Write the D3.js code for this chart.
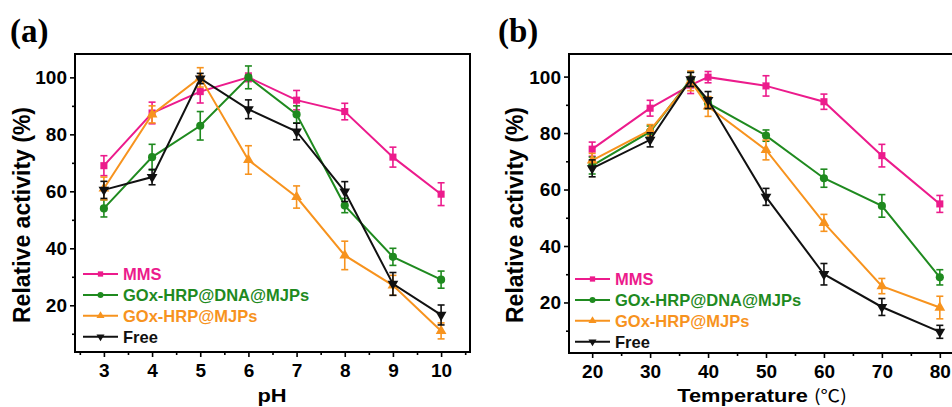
<!DOCTYPE html>
<html>
<head>
<meta charset="utf-8">
<script src="https://cdn.jsdelivr.net/npm/d3@7"></script>
<style>
  html, body { margin: 0; padding: 0; background: #fff; }
  svg { display: block; }
</style>
</head>
<body>
<svg id="fig" width="952" height="407"></svg>
<script>
// ---- data: relative activity (%) vs pH ----
const phLevels = [3, 4, 5, 6, 7, 8, 9, 10];
const mmsPH      = [69, 87.5, 95, 100, 92, 88, 72, 59];
const mmsPHErr   = [3.5, 3.8, 4, 1.5, 3.4, 2.9, 3.5, 4];
const dnaPH      = [54, 72, 83, 100, 87, 55, 37, 29];
const dnaPHErr   = [3, 4.5, 5, 4, 3, 2.5, 3, 3];
const mjpPH      = [61, 87, 100, 71, 58, 37.5, 27, 11];
const mjpPHErr   = [4, 3, 3.4, 5, 3.9, 5, 3.5, 2.8];
const freePH     = [60.5, 65, 99.6, 88.8, 81, 59.9, 27.5, 16.6];
const freePHErr  = [3, 2.7, 1.8, 3.3, 2.9, 3.5, 4, 3.5];

// ---- data: relative activity (%) vs temperature ----
const tempLevels = [20, 30, 37, 40, 50, 60, 70, 80];
const mmsT       = [74.3, 88.8, 97, 99.8, 96.7, 91.1, 72, 54.9];
const mmsTErr    = [2.5, 2.8, 3, 2, 3.6, 2.7, 4, 3];
const dnaT       = [68.5, 80.5, 99, 90.6, 79.1, 64, 54.2, 28.9];
const dnaTErr    = [3, 2, 2.5, 2, 2, 3.2, 4, 2.7];
const mjpT       = [70.3, 81, 98.5, 89.4, 74, 48.2, 25.8, 18.2];
const mjpTErr    = [2.5, 2, 3.5, 3.5, 3.5, 3, 2.7, 4];
const freeT      = [67.5, 77.6, 99, 91.7, 57.4, 30, 18.4, 9.6];
const freeTErr   = [3, 2.5, 2.5, 3, 3, 3.8, 3, 2.3];

const seriesNames = ["MMS", "GOx-HRP@DNA@MJPs", "GOx-HRP@MJPs", "Free"];
const seriesColors = ["#ec1b8c", "#1f8a1f", "#f7931e", "#111111"];
const seriesSymbols = [d3.symbolSquare, d3.symbolCircle, d3.symbolTriangle, d3.symbolTriangle];

const yTicksMajor = [20, 40, 60, 80, 100];
const yTicksMinor = [10, 30, 50, 70, 90];
const phTicksMajor = [3, 4, 5, 6, 7, 8, 9, 10];
const phTicksMinor = [2.5, 3.5, 4.5, 5.5, 6.5, 7.5, 8.5, 9.5, 10.5];
const tTicksMajor = [20, 30, 40, 50, 60, 70, 80];
const tTicksMinor = [25, 35, 45, 55, 65, 75];

const svg = d3.select("#fig");
const SANS = "'Liberation Sans', Arial, sans-serif";

function drawPanel(cfg) {
  const { left, top, right, bottom } = cfg.frame;
  const x = d3.scaleLinear().domain(cfg.xDomain).range([left, right]);
  const y = d3.scaleLinear().domain(cfg.yDomain).range([bottom, top]);
  const g = svg.append("g");

  // panel letter
  g.append("text")
    .attr("x", cfg.letterX).attr("y", 42)
    .attr("font-family", "'Liberation Serif', 'Times New Roman', serif")
    .attr("font-weight", "bold").attr("font-size", 33)
    .text(cfg.letter);

  // axes with outward major + minor ticks
  const xAxis = g.append("g").attr("transform", `translate(0,${bottom})`)
    .call(d3.axisBottom(x).tickValues(cfg.xMajor).tickSize(5).tickFormat(d3.format("d")));
  g.append("g").attr("transform", `translate(0,${bottom})`)
    .call(d3.axisBottom(x).tickValues(cfg.xMinor).tickSize(3).tickFormat(""));
  const yAxis = g.append("g").attr("transform", `translate(${left},0)`)
    .call(d3.axisLeft(y).tickValues(yTicksMajor).tickSize(5).tickFormat(d3.format("d")));
  g.append("g").attr("transform", `translate(${left},0)`)
    .call(d3.axisLeft(y).tickValues(yTicksMinor).tickSize(3).tickFormat(""));
  g.selectAll(".domain").remove();
  g.selectAll(".tick line").attr("stroke", "#000").attr("stroke-width", 1.6);
  xAxis.selectAll(".tick text")
    .attr("font-family", SANS).attr("font-weight", "bold").attr("font-size", 19)
    .attr("fill", "#000").attr("dy", "0.92em");
  yAxis.selectAll(".tick text")
    .attr("font-family", SANS).attr("font-weight", "bold").attr("font-size", 19)
    .attr("fill", "#000").attr("x", -8).attr("dy", "0.34em");

  // frame
  g.append("rect")
    .attr("x", left).attr("y", top)
    .attr("width", right - left).attr("height", bottom - top)
    .attr("fill", "none").attr("stroke", "#000").attr("stroke-width", 2);

  // axis titles
  g.append("text")
    .attr("transform", `translate(${cfg.yLabelX},${cfg.yLabelY}) rotate(-90)`)
    .attr("text-anchor", "middle")
    .attr("font-family", SANS).attr("font-weight", "bold").attr("font-size", 23)
    .text("Relative activity (%)");
  const xt = g.append("text")
    .attr("transform", `translate(${cfg.xLabelX},402) scale(1.15,1)`)
    .attr("text-anchor", "middle")
    .attr("font-family", SANS).attr("font-weight", "bold").attr("font-size", 19);
  xt.append("tspan").text(cfg.xLabel);
  if (cfg.xUnit) {
    xt.append("tspan")
      .attr("font-family", "'Noto Sans CJK SC', sans-serif")
      .attr("font-weight", "normal").attr("font-size", 17)
      .text(cfg.xUnit);
  }

  const plot = g.append("g");
  const line = d3.line().x(d => x(d[0])).y(d => y(d[1]));

  cfg.series.forEach((s, i) => {
    const color = seriesColors[i];
    const pts = cfg.xs.map((xv, k) => [xv, s.values[k], s.errors[k]]);
    const sg = plot.append("g");
    // error bars
    pts.forEach(p => {
      const cx = x(p[0]), y1 = y(p[1] + p[2]), y2 = y(p[1] - p[2]);
      sg.append("line").attr("x1", cx).attr("x2", cx).attr("y1", y1).attr("y2", y2)
        .attr("stroke", color).attr("stroke-width", 1.6);
      [y1, y2].forEach(yy => sg.append("line")
        .attr("x1", cx - 3.5).attr("x2", cx + 3.5).attr("y1", yy).attr("y2", yy)
        .attr("stroke", color).attr("stroke-width", 1.6));
    });
    // connecting line
    sg.append("path").datum(pts).attr("d", line)
      .attr("fill", "none").attr("stroke", color).attr("stroke-width", 2);
    // markers
    const sym = d3.symbol().type(seriesSymbols[i]).size(i === 1 ? 52 : 50);
    pts.forEach(p => {
      sg.append("path").attr("d", sym())
        .attr("transform", `translate(${x(p[0])},${y(p[1])})${i === 3 ? " rotate(180)" : ""}`)
        .attr("fill", color);
    });
  });

  // legend
  seriesNames.forEach((name, i) => {
    const ly = cfg.legendY + i * 20.9;
    const color = seriesColors[i];
    g.append("line").attr("x1", cfg.legendX).attr("x2", cfg.legendX + 35)
      .attr("y1", ly).attr("y2", ly).attr("stroke", color).attr("stroke-width", 2);
    const sym = d3.symbol().type(seriesSymbols[i]).size(28);
    g.append("path").attr("d", sym())
      .attr("transform", `translate(${cfg.legendX + 17.5},${ly})${i === 3 ? " rotate(180)" : ""}`)
      .attr("fill", color);
    g.append("text").attr("x", cfg.legendX + 40).attr("y", ly + 6)
      .attr("font-family", SANS).attr("font-weight", "bold").attr("font-size", 16.5)
      .attr("fill", color).text(name);
  });
}

drawPanel({
  letter: "(a)", letterX: 10,
  frame: { left: 75, top: 54, right: 470, bottom: 352 },
  xDomain: [2.4, 10.6], yDomain: [3.6, 108.2],
  xMajor: phTicksMajor, xMinor: phTicksMinor,
  xs: phLevels,
  xLabel: "pH", xLabelX: 272,
  yLabelX: 30, yLabelY: 215,
  legendX: 83, legendY: 274,
  series: [
    { values: mmsPH, errors: mmsPHErr },
    { values: dnaPH, errors: dnaPHErr },
    { values: mjpPH, errors: mjpPHErr },
    { values: freePH, errors: freePHErr }
  ]
});

drawPanel({
  letter: "(b)", letterX: 498,
  frame: { left: 569, top: 54, right: 963, bottom: 353 },
  xDomain: [16, 84], yDomain: [2.1, 108],
  xMajor: tTicksMajor, xMinor: tTicksMinor,
  xs: tempLevels,
  xLabel: "Temperature ", xUnit: "(℃)", xLabelX: 762,
  yLabelX: 523, yLabelY: 215,
  legendX: 575, legendY: 279,
  series: [
    { values: mmsT, errors: mmsTErr },
    { values: dnaT, errors: dnaTErr },
    { values: mjpT, errors: mjpTErr },
    { values: freeT, errors: freeTErr }
  ]
});
</script>
</body>
</html>
